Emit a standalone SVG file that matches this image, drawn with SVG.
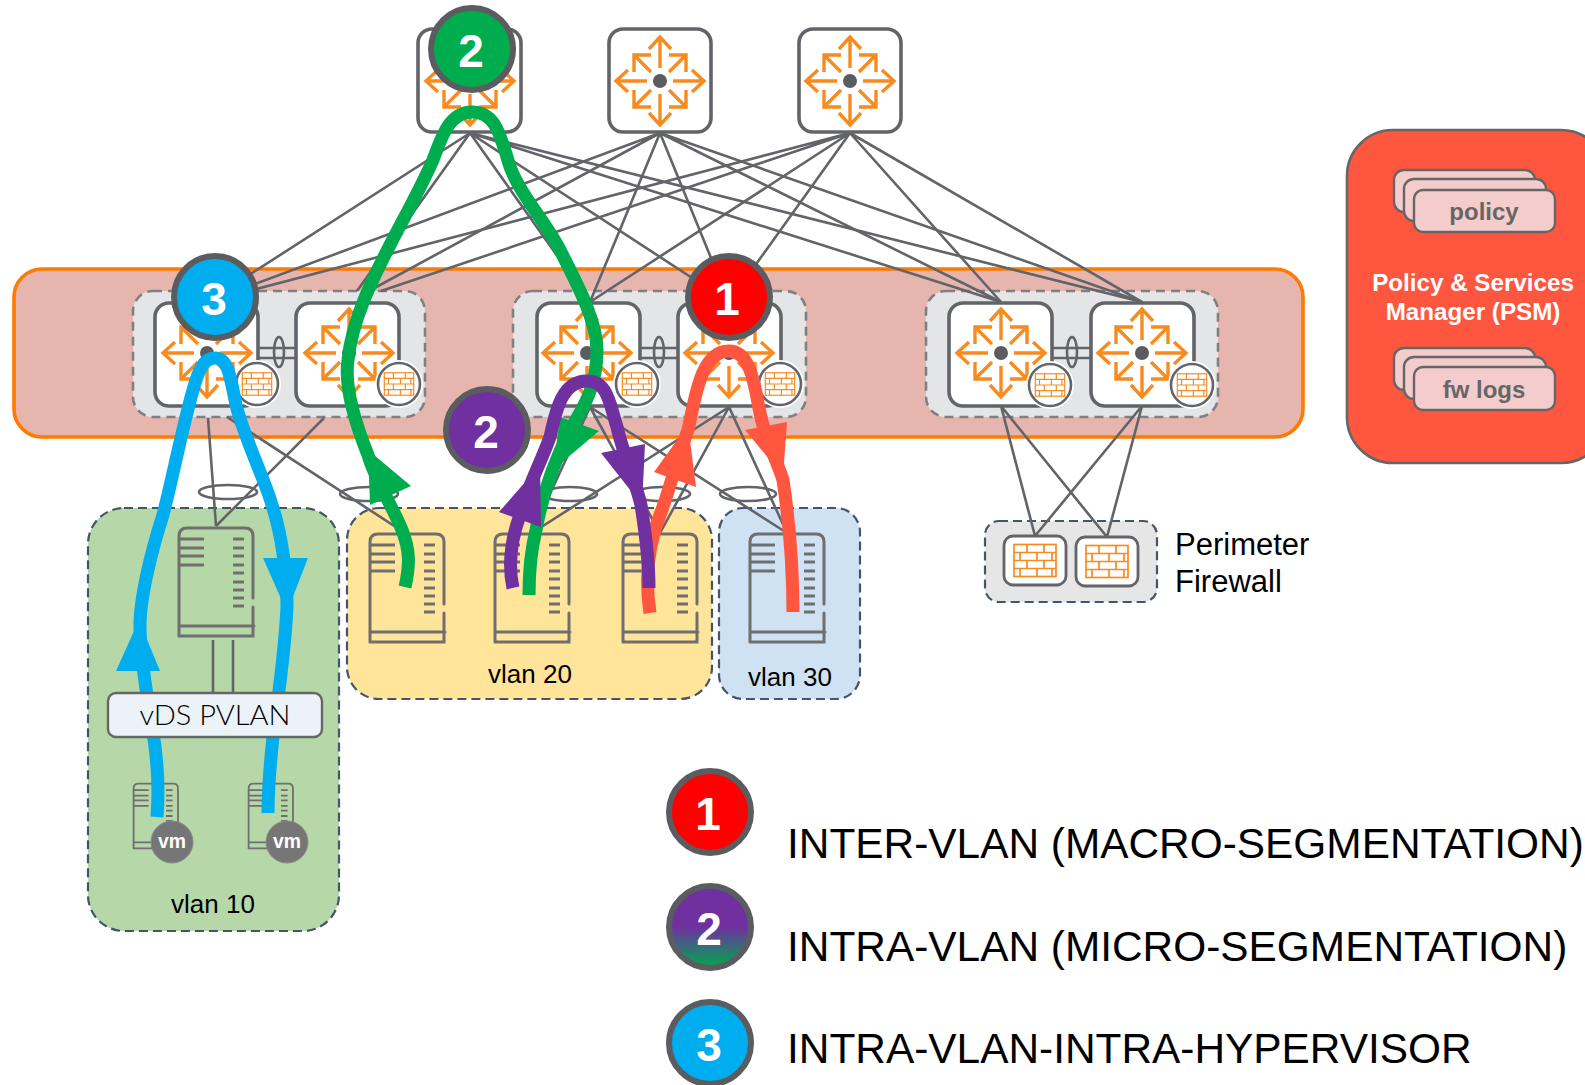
<svg xmlns="http://www.w3.org/2000/svg" xmlns:xlink="http://www.w3.org/1999/xlink" width="1585" height="1085" viewBox="0 0 1585 1085">
<style>
text{font-family:"Liberation Sans",Arial,sans-serif}
.box{fill:#fff;stroke:#636469;stroke-width:3.6}
.grp{fill:#e4e5e7;stroke:#808080;stroke-width:2.6;stroke-dasharray:9 6}
.vl{stroke:#44546a;stroke-width:2.2;stroke-dasharray:9 5}
.ln{fill:none;stroke:#636469;stroke-width:2.6}
.or{fill:none;stroke:#f68b1f;stroke-width:3.4}
.srv{fill:none;stroke:#6f6f6f;stroke-width:3;stroke-linecap:round}
.slot{fill:none;stroke:#6f6f6f;stroke-width:3}
.fl{fill:none;stroke-width:13}
.badge{stroke:#5b5c60;stroke-width:6}
.num{font-weight:bold;font-size:46px;fill:#fff;text-anchor:middle}
.lbl{font-size:26px;fill:#000;text-anchor:middle}
.leg{font-size:42.4px;fill:#000}
.card{fill:#f4cccc;stroke:#666;stroke-width:2.4}
.cardt{font-weight:bold;font-size:24px;fill:#666;text-anchor:middle}
.psm{font-weight:bold;font-size:24.2px;fill:#fff;text-anchor:middle}
.br{fill:none;stroke:#f68b1f;stroke-width:1.7}
.fwb{fill:#fff;stroke:#636469;stroke-width:2.8}
</style>
<defs>
<linearGradient id="pg" x1="0" y1="0" x2="0" y2="1"><stop offset="0.5" stop-color="#7030a0"/><stop offset="0.98" stop-color="#00a651"/></linearGradient>
<g id="router">
<g class="or">
<path d="M-13,0H-43M-32,-11L-44,0L-32,11M13,0H43M32,-11L44,0L32,11M0,-13V-43M-11,-32L0,-44L11,-32M0,13V43M-11,32L0,44L11,32"/>
<path d="M-9,-9L-26,-26M-26,-9V-26H-9M9,-9L26,-26M26,-9V-26H9M-9,9L-26,26M-26,9V26H-9M9,9L26,26M26,9V26H9"/>
</g>
<circle r="7" fill="#5b5c60"/>
</g>
<g id="brick" class="br">
<rect x="-21" y="-16" width="42" height="32"/>
<path d="M-21,-8H21M-21,0H21M-21,8H21M-8,-16V-8M9,-16V-8M-15,-8V0M2,-8V0M17,-8V0M-8,0V8M9,0V8M-15,8V16M2,8V16M17,8V16"/>
</g>
<g id="badgefw">
<circle r="24" fill="#fff"/>
<circle r="21" fill="#fff" stroke="#636469" stroke-width="2.6"/>
<use href="#brick" transform="scale(.7)"/>
</g>
<g id="server">
<path class="srv" d="M1,109V9Q1,1 9,1H67Q75,1 75,9V71M75,80V109H1M1,99H76"/>
<path class="slot" d="M1,12H26M1,21H26M1,29H26M1,38H26M55,12H66M55,21H66M55,29H66M55,38H66M55,46H66M55,55H66M55,63H66M55,71H66M55,79H66"/>
</g>
</defs>

<rect id="fabric-band" x="14" y="269" width="1289" height="168" rx="28" fill="#e6b5ae" stroke="#ff7a00" stroke-width="3.6"/>

<g id="vlan10-zone"><rect class="vl" x="88" y="508" width="251" height="423" rx="36" fill="#b6d7a8"/></g>
<g id="vlan20-zone"><rect class="vl" x="347" y="508" width="365" height="191" rx="32" fill="#ffe599"/></g>
<g id="vlan30-zone"><rect class="vl" x="719" y="508" width="141" height="191" rx="24" fill="#cfe2f3"/></g>
<g id="fw-zone"><rect class="vl" x="985" y="521" width="172" height="81" rx="14" fill="#e6e6e6"/></g>

<g id="pair1-panel"><rect class="grp" x="133" y="291" width="292" height="126" rx="20"/></g>
<g id="pair2-panel"><rect class="grp" x="513" y="291" width="293" height="126" rx="20"/></g>
<g id="pair3-panel"><rect class="grp" x="926" y="291" width="292" height="126" rx="20"/></g>

<g id="connectors" class="ln">
<path d="M470,133L207,302M470,133L357,291M470,133L590,302M470,133L729,302M470,133L1001,302M470,133L1142,302"/>
<path d="M660,133L207,302M660,133L369,291M660,133L590,302M660,133L729,302M660,133L1001,302M660,133L1142,302"/>
<path d="M850,133L207,302M850,133L381,291M850,133L590,302M850,133L729,302M850,133L1001,302M850,133L1142,302"/>
<path d="M208,418L216,526M227,417L405,533M324,418L216,526"/>
<path d="M590,407L532,533M590,407L660,533M590,407L787,533M729,407L532,533M729,407L660,533M729,407L787,533"/>
<path d="M1001,406L1035,536M1001,406L1107,537M1142,406L1035,536M1142,406L1107,537"/>
<path d="M258,348H296M258,358H296M640,348H677M640,358H677M1052,348H1091M1052,358H1091"/>
<path d="M213,640V693M233,640V693"/>
<ellipse cx="279" cy="352" rx="5" ry="15"/>
<ellipse cx="659" cy="352" rx="5" ry="15"/>
<ellipse cx="1072" cy="352" rx="5" ry="15"/>
<ellipse cx="228" cy="492" rx="29" ry="7"/>
<ellipse cx="369" cy="494" rx="29" ry="7"/>
<ellipse cx="570" cy="494" rx="27" ry="7"/>
<ellipse cx="662" cy="494" rx="28" ry="7"/>
<ellipse cx="748" cy="494" rx="28" ry="7"/>
</g>

<g id="spine1"><rect class="box" x="418" y="29" width="103" height="103" rx="14"/><use href="#router" x="470" y="81"/></g>
<g id="spine2"><rect class="box" x="609" y="29" width="102" height="103" rx="14"/><use href="#router" x="660" y="81"/></g>
<g id="spine3"><rect class="box" x="799" y="29" width="102" height="103" rx="14"/><use href="#router" x="850" y="81"/></g>

<g id="leaf1"><rect class="box" x="155" y="303" width="103" height="103" rx="14"/><use href="#router" x="207" y="353"/><use href="#badgefw" x="257" y="384"/></g>
<g id="leaf2"><rect class="box" x="296" y="303" width="103" height="103" rx="14"/><use href="#router" x="349" y="353"/><use href="#badgefw" x="399" y="384"/></g>
<g id="leaf3"><rect class="box" x="537" y="303" width="103" height="103" rx="14"/><use href="#router" x="587" y="353"/><use href="#badgefw" x="637" y="384"/></g>
<g id="leaf4"><rect class="box" x="678" y="303" width="103" height="103" rx="14"/><use href="#router" x="729" y="353"/><use href="#badgefw" x="780" y="384"/></g>
<g id="leaf5"><rect class="box" x="949" y="303" width="103" height="103" rx="14"/><use href="#router" x="1001" y="353"/><use href="#badgefw" x="1050" y="385"/></g>
<g id="leaf6"><rect class="box" x="1091" y="303" width="103" height="103" rx="14"/><use href="#router" x="1142" y="353"/><use href="#badgefw" x="1192" y="385"/></g>

<g id="server-v10"><use href="#server" x="178" y="527"/></g>
<g id="server-v20a"><use href="#server" x="369" y="533"/></g>
<g id="server-v20b"><use href="#server" x="494" y="533"/></g>
<g id="server-v20c"><use href="#server" x="622" y="533"/></g>
<g id="server-v30"><use href="#server" x="749" y="533"/></g>
<g id="vm-host1"><use href="#server" transform="translate(133,783) scale(.6)"/></g>
<g id="vm-host2"><use href="#server" transform="translate(248,783) scale(.6)"/></g>

<g id="fw1"><rect class="fwb" x="1004" y="536" width="62" height="49" rx="9"/><use href="#brick" x="1035" y="560.500"/></g>
<g id="fw2"><rect class="fwb" x="1076" y="537" width="62" height="49" rx="9"/><use href="#brick" x="1107" y="561.500"/></g>

<g id="flows">
<g stroke="#00ad4e" fill="#00ad4e">
<path class="fl" d="M405,587C410,565 410,550 402,530C392,505 375,480 368,455C350,410 345,380 348,360C352,320 372,280 390,245C400,225 420,190 433,160C442,135 450,112 472,112C495,112 500,135 507,157C515,190 545,220 560,250C575,280 597,320 597,350C597,385 585,405 570,430C555,460 543,490 536,530C531,550 529,570 529,595"/>
<polygon stroke="none" points="368,450 411,486 370,505"/>
<polygon stroke="none" points="560,417 599,431 553,470"/>
</g>
<g stroke="#00aeef" fill="#00aeef">
<path class="fl" d="M157,817C159,790 158,760 152,727C148,700 140,660 140,625C140,600 150,555 163,515C172,480 183,425 193,390C198,372 203,358 215,358C228,358 230,375 236,405C245,440 265,480 272,505C282,535 287,575 287,607C285,650 278,700 273,737C270,765 268,790 268,813"/>
<polygon stroke="none" points="139,620 160,671 116,671"/>
<polygon stroke="none" points="263,558 308,558 287,612"/>
</g>
<g stroke="#ff5640" fill="#ff5640">
<path class="fl" d="M650,613C645,580 648,545 660,515C668,495 675,465 688,430C695,400 700,351 729,351C752,351 755,390 760,413C765,440 775,455 783,480C789,520 793,570 793,612"/>
<polygon stroke="none" points="688,425 696,487 654,472"/>
<polygon stroke="none" points="745,430 787,422 783,476"/>
</g>
<g stroke="#7030a0" fill="#7030a0">
<path class="fl" d="M513,588C508,565 511,540 520,515C530,480 540,465 550,437C556,410 562,381 587,381C608,381 610,405 617,427C622,450 635,480 641,505C645,530 649,560 649,588"/>
<polygon stroke="none" points="540,465 541,527 499,512"/>
<polygon stroke="none" points="601,453 645,444 642,505"/>
</g>
</g>

<g id="vds"><rect x="108" y="693" width="214" height="44" rx="8" fill="#ebf3f9" stroke="#666" stroke-width="2.4"/><text x="215" y="725" font-size="28" text-anchor="middle" style="font-family:Lato,sans-serif;font-weight:300" textLength="151" lengthAdjust="spacingAndGlyphs">vDS PVLAN</text></g>
<g id="vm1"><circle cx="172" cy="842" r="21" fill="#767676" stroke="#8a8a8a" stroke-width="1"/><text x="172" y="848" font-size="20" font-weight="bold" fill="#fff" text-anchor="middle" textLength="28" lengthAdjust="spacingAndGlyphs">vm</text></g>
<g id="vm2"><circle cx="287" cy="842" r="21" fill="#767676" stroke="#8a8a8a" stroke-width="1"/><text x="287" y="848" font-size="20" font-weight="bold" fill="#fff" text-anchor="middle" textLength="28" lengthAdjust="spacingAndGlyphs">vm</text></g>

<text class="lbl" x="213" y="913">vlan 10</text>
<text class="lbl" x="530" y="683">vlan 20</text>
<text class="lbl" x="790" y="686">vlan 30</text>
<text x="1175" y="555" font-size="31">Perimeter</text>
<text x="1175" y="592" font-size="31">Firewall</text>

<g id="psm">
<rect x="1347" y="130" width="260" height="333" rx="46" fill="#ff5640" stroke="#666" stroke-width="2.600"/>
<rect class="card" x="1394" y="170" width="141" height="42" rx="10"/>
<rect class="card" x="1404" y="179" width="142" height="42" rx="10"/>
<rect class="card" x="1414" y="190" width="141" height="42" rx="9"/>
<text class="cardt" x="1484" y="220">policy</text>
<text class="psm" x="1473" y="291">Policy &amp; Services</text>
<text class="psm" x="1473" y="320">Manager (PSM)</text>
<rect class="card" x="1394" y="348" width="141" height="42" rx="10"/>
<rect class="card" x="1404" y="357" width="142" height="42" rx="10"/>
<rect class="card" x="1414" y="367" width="141" height="43" rx="9"/>
<text class="cardt" x="1484" y="398">fw logs</text>
</g>

<g id="badge-green"><circle class="badge" cx="472" cy="49" r="41" fill="#00ad4e"/><text class="num" x="471" y="67">2</text></g>
<g id="badge-blue"><circle class="badge" cx="215" cy="297" r="41" fill="#00aeef"/><text class="num" x="214" y="315">3</text></g>
<g id="badge-red"><circle class="badge" cx="729" cy="297" r="41" fill="#ff0000"/><text class="num" x="727" y="315">1</text></g>
<g id="badge-purple"><circle class="badge" cx="487" cy="430" r="41" fill="#7030a0"/><text class="num" x="486" y="448">2</text></g>

<g id="legend">
<circle class="badge" cx="710" cy="812" r="41" fill="#ff0000"/><text class="num" x="708" y="830">1</text>
<text class="leg" x="787" y="858">INTER-VLAN (MACRO-SEGMENTATION)</text>
<circle class="badge" cx="710" cy="927" r="41" fill="url(#pg)"/><text class="num" x="709" y="945">2</text>
<text class="leg" x="787" y="961">INTRA-VLAN (MICRO-SEGMENTATION)</text>
<circle class="badge" cx="710" cy="1043" r="41" fill="#00aeef"/><text class="num" x="709" y="1061">3</text>
<text class="leg" x="787" y="1063">INTRA-VLAN-INTRA-HYPERVISOR</text>
</g>
</svg>
